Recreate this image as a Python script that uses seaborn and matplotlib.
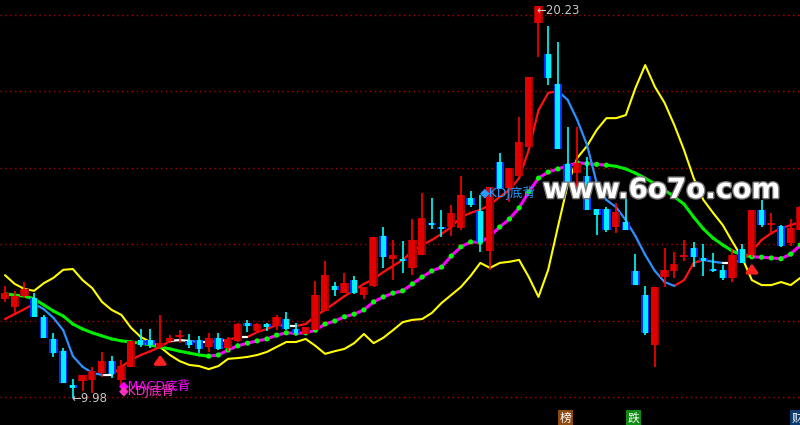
import matplotlib
matplotlib.use('Agg')
import matplotlib.pyplot as plt
import matplotlib.patheffects as pe
import numpy as np
import pandas as pd
import seaborn as sns

# --- K线数据 (开/高/低/收) ---
opens = [12.57, 12.36, 12.64, 12.59, 12.10, 11.52, 11.20, 10.31, 10.42, 10.45,
         10.63, 10.94, 10.45, 10.79, 11.49, 11.49, 11.31, 11.47, 11.57, 11.47,
         11.49, 11.31, 11.55, 11.28, 11.47, 11.94, 11.73, 11.91, 11.86, 12.04,
         11.78, 11.65, 11.75, 12.25, 12.91, 12.72, 13.06, 12.67, 12.91, 14.21,
         13.61, 13.61, 13.38, 13.72, 14.56, 14.45, 14.45, 14.42, 15.21, 14.87,
         13.82, 16.15, 15.47, 15.79, 16.55, 19.79, 18.98, 18.19, 16.10, 15.86,
         15.79, 14.92, 14.92, 14.45, 14.58, 13.30, 12.67, 11.36, 13.14, 13.30,
         13.67, 13.90, 13.64, 13.35, 13.33, 13.12, 13.87, 13.72, 14.90, 14.50,
         14.48, 14.03, 14.37]
highs = [12.91, 12.78, 13.01, 12.72, 12.14, 11.68, 11.28, 10.47, 10.58, 10.79,
         11.18, 11.07, 10.97, 11.47, 11.78, 11.78, 12.15, 11.62, 11.75, 11.65,
         11.60, 11.68, 11.68, 11.57, 11.95, 12.02, 11.94, 11.94, 12.15, 12.23,
         11.94, 11.83, 13.04, 13.56, 13.01, 13.25, 13.17, 12.88, 14.19, 14.45,
         14.11, 14.08, 14.66, 15.34, 15.21, 14.90, 15.03, 15.79, 15.39, 15.29,
         15.50, 16.39, 16.00, 17.33, 18.38, 20.23, 19.71, 19.29, 17.07, 17.07,
         16.28, 14.92, 14.97, 15.08, 15.37, 13.74, 12.91, 12.88, 13.90, 13.80,
         14.11, 14.06, 14.01, 13.77, 13.46, 13.87, 14.01, 14.90, 15.16, 14.82,
         14.50, 14.66, 15.00]
lows = [12.49, 12.20, 12.59, 12.10, 11.55, 11.05, 10.37, 9.98, 10.16, 10.11,
        10.52, 10.50, 10.24, 10.79, 11.31, 11.28, 11.28, 11.41, 11.41, 11.28,
        11.15, 11.18, 11.23, 11.20, 11.45, 11.70, 11.68, 11.73, 11.75, 11.75,
        11.62, 11.65, 11.75, 12.25, 12.64, 12.72, 12.70, 12.57, 12.88, 13.38,
        13.06, 13.25, 13.19, 13.72, 14.40, 14.19, 14.21, 14.37, 14.97, 13.80,
        13.33, 15.45, 15.10, 15.79, 16.55, 18.90, 18.17, 16.49, 15.60, 15.50,
        14.90, 14.24, 14.32, 14.29, 14.37, 12.93, 11.62, 10.79, 12.88, 13.12,
        13.56, 13.40, 13.17, 13.27, 13.06, 13.01, 13.51, 13.67, 14.45, 14.24,
        13.93, 13.95, 14.37]
closes = [12.72, 12.64, 12.83, 12.10, 11.55, 11.15, 10.37, 10.24, 10.58, 10.68,
          10.94, 10.60, 10.81, 11.47, 11.36, 11.36, 11.41, 11.55, 11.62, 11.36,
          11.26, 11.55, 11.26, 11.52, 11.91, 11.86, 11.91, 11.83, 12.10, 11.78,
          11.68, 11.83, 12.67, 13.19, 12.80, 12.98, 12.72, 12.88, 14.19, 13.67,
          13.72, 13.56, 14.11, 14.69, 14.50, 14.40, 14.82, 15.29, 15.03, 14.06,
          15.50, 15.45, 16.00, 16.68, 18.38, 20.23, 18.35, 16.49, 15.60, 16.13,
          14.90, 14.76, 14.37, 14.84, 14.37, 12.93, 11.68, 12.88, 13.33, 13.48,
          13.72, 13.67, 13.56, 13.30, 13.12, 13.72, 13.51, 14.90, 14.50, 14.56,
          13.95, 14.42, 14.97]

# --- 均线 ---
ma_fast = [12.04, 12.17, 12.30, 12.44, 12.30, 12.07, 11.75, 11.07, 10.79, 10.63,
           10.58, 10.58, 10.79, 10.97, 11.10, 11.20, 11.31, 11.47, 11.49, 11.47,
           11.44, 11.44, 11.47, 11.49, 11.57, 11.57, 11.70, 11.78, 11.89, 11.86,
           11.86, 11.91, 12.12, 12.28, 12.46, 12.64, 12.80, 12.96, 13.09, 13.27,
           13.43, 13.59, 13.82, 13.98, 14.11, 14.27, 14.45, 14.71, 14.82, 14.90,
           15.03, 15.24, 15.42, 15.73, 16.47, 17.51, 17.96, 18.01, 17.78, 17.25,
           16.60, 15.60, 15.16, 14.97, 14.63, 14.21, 13.72, 13.30, 13.01, 12.91,
           13.06, 13.51, 13.59, 13.54, 13.51, 13.51, 13.59, 13.82, 14.11, 14.29,
           14.42, 14.50, 14.58]
ma_slow = [12.70, 12.67, 12.64, 12.57, 12.41, 12.25, 12.12, 11.91, 11.78, 11.68,
           11.60, 11.52, 11.47, 11.44, 11.41, 11.36, 11.31, 11.26, 11.20, 11.15,
           11.10, 11.07, 11.10, 11.23, 11.34, 11.41, 11.47, 11.52, 11.62, 11.68,
           11.67, 11.68, 11.75, 11.91, 11.99, 12.10, 12.17, 12.28, 12.49, 12.62,
           12.72, 12.78, 12.96, 13.14, 13.30, 13.40, 13.69, 13.93, 14.06, 14.05,
           14.21, 14.45, 14.66, 14.95, 15.37, 15.73, 15.89, 15.97, 16.05, 16.13,
           16.11, 16.09, 16.07, 16.04, 15.97, 15.86, 15.73, 15.58, 15.42, 15.24,
           15.05, 14.71, 14.40, 14.16, 13.98, 13.82, 13.72, 13.67, 13.66, 13.64,
           13.62, 13.74, 13.98]
band = [13.19, 12.96, 12.83, 12.78, 12.98, 13.12, 13.33, 13.35, 13.06, 12.85,
        12.49, 12.28, 12.15, 11.81, 11.57, 11.44, 11.31, 11.10, 10.94, 10.84,
        10.81, 10.73, 10.81, 11.00, 11.02, 11.05, 11.10, 11.18, 11.31, 11.44,
        11.44, 11.52, 11.34, 11.13, 11.20, 11.26, 11.41, 11.65, 11.41, 11.55,
        11.75, 11.96, 12.02, 12.04, 12.20, 12.46, 12.67, 12.88, 13.17, 13.51,
        13.38, 13.51, 13.54, 13.59, 13.14, 12.62, 13.33, 14.45, 15.55, 16.26,
        16.57, 16.99, 17.30, 17.30, 17.38, 18.09, 18.69, 18.12, 17.70, 17.12,
        16.47, 15.73, 15.16, 14.82, 14.50, 14.06, 13.64, 13.06, 12.93, 12.93,
        13.01, 12.93, 13.12]

grid_prices = [10, 12, 14, 16, 18, 20]
high_idx, low_idx = 55, 7
signal_idx = [16, 77]


def make_segments(values, up, down, flat, tol=0.025):
    rows = []
    for k in range(len(values) - 1):
        d = values[k + 1] - values[k]
        trend = up if d > tol else (down if d < -tol else flat)
        rows.append({'seg': k, 'x': k, 'y': values[k], 'trend': trend})
        rows.append({'seg': k, 'x': k + 1, 'y': values[k + 1], 'trend': trend})
    return pd.DataFrame(rows)


sns.set_style('dark', {'axes.facecolor': 'black', 'figure.facecolor': 'black'})
plt.rcParams['font.family'] = ['DejaVu Sans', 'Noto Sans CJK SC']

n = len(closes)
idx = np.arange(n)
o = np.array(opens)
h = np.array(highs)
l = np.array(lows)
c = np.array(closes)
up = c >= o

fig = plt.figure(figsize=(8, 4.25), dpi=100)
ax = fig.add_axes([0, 0, 1, 1])
ax.set_facecolor('black')

for g in grid_prices:
    ax.axhline(g, color='#b00000', lw=1, ls=(0, (1, 2.5)), zorder=1)

# 黄线
sns.lineplot(x=idx, y=band, color='#ffff00', lw=1.5, ax=ax, zorder=2)

# 慢线 (绿/紫)
seg_b = make_segments(ma_slow, 'up', 'down', 'up')
sns.lineplot(data=seg_b, x='x', y='y', hue='trend', units='seg', estimator=None,
             palette={'up': '#ff00ff', 'down': '#00ee00'}, legend=False,
             lw=2.2, ax=ax, zorder=2)
dots = seg_b[seg_b['trend'] == 'up'].drop_duplicates('x')
sns.scatterplot(data=dots, x='x', y='y', color='#00ff00', s=14,
                edgecolor='none', ax=ax, zorder=3, legend=False)

# 快线 (红/蓝/白)
seg_a = make_segments(ma_fast, 'up', 'down', 'flat')
sns.lineplot(data=seg_a, x='x', y='y', hue='trend', units='seg', estimator=None,
             palette={'up': '#ff1010', 'down': '#2a90ff', 'flat': '#ffffff'},
             legend=False, lw=1.6, ax=ax, zorder=3)

# K线
body_lo = np.minimum(o, c)
body_h = np.maximum(np.abs(c - o), 0.05)
ax.vlines(idx[up], l[up], h[up], color='#ff0000', lw=1.2, zorder=4)
ax.vlines(idx[~up], l[~up], h[~up], color='#00ffff', lw=1.2, zorder=4)
bar_kw = dict(linewidth=0, edgecolor='none', zorder=5)
ax.bar(idx[up], body_h[up], bottom=body_lo[up], width=0.85, color='#a00000', **bar_kw)
ax.bar(idx[up] - 0.08, body_h[up], bottom=body_lo[up], width=0.6, color='#e00000', **bar_kw)
ax.bar(idx[~up], body_h[~up], bottom=body_lo[~up], width=0.85, color='#0030ff', **bar_kw)
ax.bar(idx[~up], body_h[~up], bottom=body_lo[~up], width=0.5, color='#00f0ff', **bar_kw)

# 最高/最低价标注
ax.text(high_idx - 0.2, highs[high_idx] - 0.1, '\u2190' + f'{highs[high_idx]:.2f}',
        color='#c8c8c8', fontsize=8.5, va='center', ha='left', zorder=6)
ax.text(low_idx - 0.1, lows[low_idx] - 0.01, '\u2190' + f'{lows[low_idx]:.2f}',
        color='#c8c8c8', fontsize=8.5, va='center', ha='left', zorder=6)

# 买点箭头
for s in signal_idx:
    ax.annotate('', xy=(s, lows[s] - 0.1), xytext=(s, lows[s] - 0.45),
                arrowprops=dict(arrowstyle='-|>,head_width=0.35,head_length=0.5',
                                color='#ff2020', lw=2.2), zorder=6)

# 背离文字
ax.text(11.7, 10.29, '\u25c6MACD底背', color='#ff00ff', fontsize=9,
        va='center', ha='left', zorder=6)
ax.text(11.7, 10.16, '\u25c6KDJ底背', color='#ff30c0', fontsize=9,
        va='center', ha='left', zorder=6)
ax.text(49.0, 15.34, '\u25c6KDJ底背', color='#2a9aff', fontsize=9,
        va='center', ha='left', zorder=6)

# 水印
ax.text(67.7, 15.42, 'www.6o7o.com', color='white', fontsize=20,
        fontweight='bold', ha='center', va='center', zorder=7,
        path_effects=[pe.withStroke(linewidth=2, foreground='#777777')])

# 底部标签
for xi, ch, fc in [(57.8, '榜', '#8a4a10'), (64.8, '跌', '#108a10'), (81.7, '财', '#0c3a6e')]:
    ax.text(xi, 9.45, ch, color='white', fontsize=8.5, ha='center', va='center',
            zorder=7, clip_on=True,
            bbox=dict(boxstyle='square,pad=0.12', fc=fc, ec='none'))

ax.set_xlim(-0.515, 81.96)
ax.set_ylim(20.393 - 425 / 38.2, 20.393)
ax.set_axis_off()

fig.savefig('out.png', dpi=100, facecolor='black')
